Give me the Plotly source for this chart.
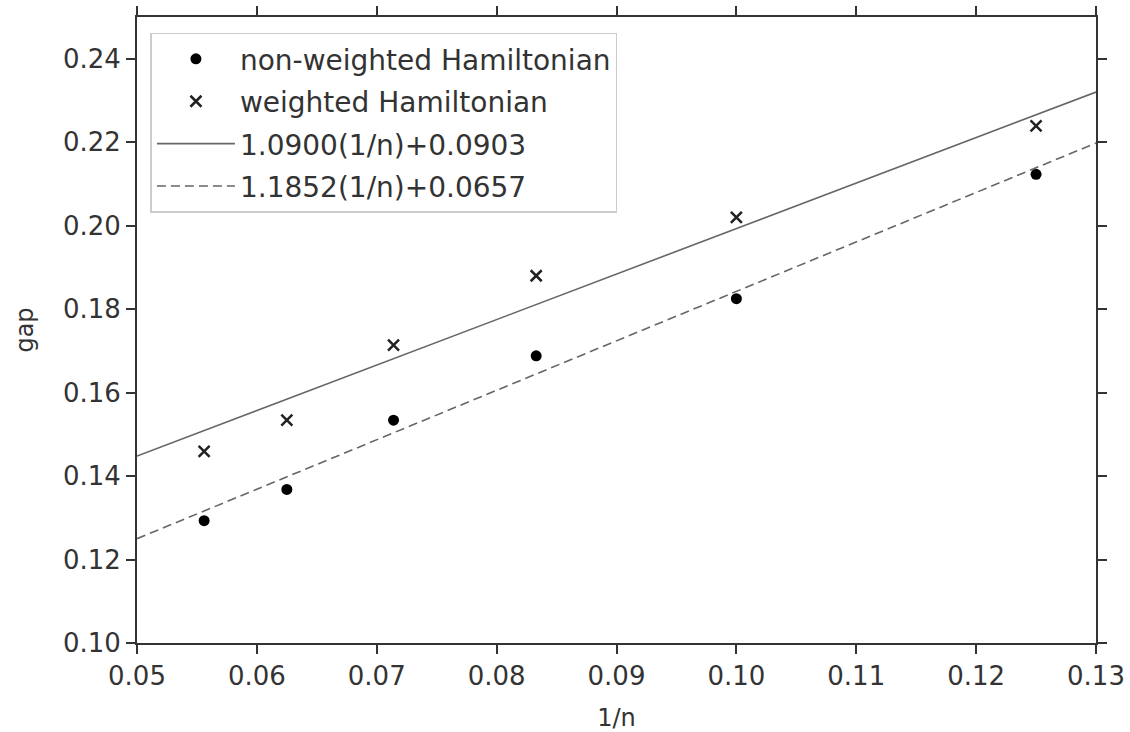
import plotly.graph_objects as go

# data
inv_n = [0.0556, 0.0625, 0.0714, 0.0833, 0.1000, 0.1250]
gap_nonweighted = [0.1293, 0.1368, 0.1534, 0.1688, 0.1825, 0.2123]
gap_weighted = [0.1459, 0.1534, 0.1714, 0.1880, 0.2020, 0.2239]

fit_x = [0.05, 0.13]
fit_weighted_y = [0.1448, 0.2320]      # 1.0900(1/n)+0.0903
fit_nonweighted_y = [0.1250, 0.2198]   # 1.1852(1/n)+0.0657

names = ["non-weighted Hamiltonian", "weighted Hamiltonian",
         "1.0900(1/n)+0.0903", "1.1852(1/n)+0.0657"]

x_ticks = [0.05, 0.06, 0.07, 0.08, 0.09, 0.10, 0.11, 0.12, 0.13]
y_ticks = [0.10, 0.12, 0.14, 0.16, 0.18, 0.20, 0.22, 0.24]

FONT = "DejaVu Sans"
fig = go.Figure()
fig.add_trace(go.Scatter(x=inv_n, y=gap_nonweighted, mode="markers", name=names[0],
                         marker=dict(symbol="circle", size=11, color="black"),
                         legendgroup="a"))
fig.add_trace(go.Scatter(x=inv_n, y=gap_weighted, mode="markers", name=names[1],
                         marker=dict(symbol="x-thin-open", size=11, color="#222",
                                     line=dict(width=2.5, color="#222")),
                         legendgroup="b"))
fig.add_trace(go.Scatter(x=fit_x, y=fit_weighted_y, mode="lines", name=names[2],
                         line=dict(color="#666", width=1.6), legendgroup="c"))
fig.add_trace(go.Scatter(x=fit_x, y=fit_nonweighted_y, mode="lines", name=names[3],
                         line=dict(color="#666", width=1.6, dash="9px,5px"), legendgroup="d"))

axis_common = dict(showline=True, linecolor="#333", linewidth=2, mirror="ticks",
                   ticks="outside", ticklen=9, tickwidth=1.5, tickcolor="#333",
                   showgrid=False, zeroline=False, automargin=False,
                   tickfont=dict(family=FONT, size=26, color="#333"))

fig.update_layout(
    width=1130, height=732,
    margin=dict(l=137, r=34, t=17, b=89),
    paper_bgcolor="white", plot_bgcolor="white",
    font=dict(family=FONT, color="#333"),
    xaxis=dict(range=[0.05, 0.13], tickvals=x_ticks, tickformat=".2f",
               title=dict(text="1/n", font=dict(family=FONT, size=24, color="#333"), standoff=19),
               **axis_common),
    yaxis=dict(range=[0.10, 0.25], tickvals=y_ticks, tickformat=".2f",
               title=dict(text="gap", font=dict(family=FONT, size=24, color="#333"), standoff=23),
               **axis_common),
    legend=dict(x=0.014, y=0.975, xanchor="left", yanchor="top",
                bgcolor="rgba(255,255,255,0.9)", bordercolor="#ccc", borderwidth=1.5,
                font=dict(family=FONT, size=28, color="#333"),
                traceorder="grouped", tracegroupgap=3, itemwidth=78),
    showlegend=True,
)

fig.write_html("out.html")
